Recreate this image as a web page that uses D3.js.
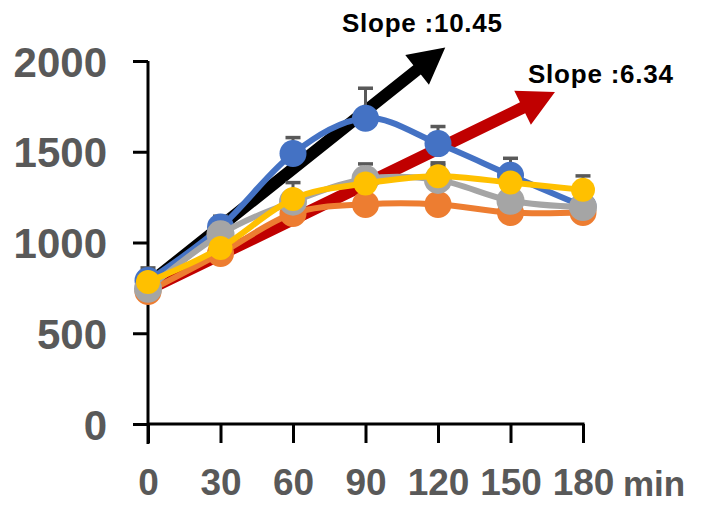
<!DOCTYPE html>
<html>
<head>
<meta charset="utf-8">
<script src="https://cdn.jsdelivr.net/npm/d3@7"></script>
<style>
  html, body { margin: 0; padding: 0; background: #fff; }
  svg { display: block; font-family: "Liberation Sans", Arial, sans-serif; font-weight: bold; }
</style>
</head>
<body>
<svg width="704" height="505"></svg>
<script>
// time points (min) and tick labels
const times = [0, 30, 60, 90, 120, 150, 180]
const yTicks = [0, 500, 1000, 1500, 2000]

// series values, drawn in this order
const blue = [790, 1085, 1490, 1685, 1545, 1370, 1200]
const blueErr = [70, 60, 88, 165, 94, 94, 40]
const orange = [730, 940, 1160, 1210, 1210, 1165, 1165]
const orangeErr = [30, 40, 40, 40, 40, 40, 30]
const gray = [745, 1045, 1225, 1350, 1345, 1230, 1195]
const grayErr = [40, 50, 105, 83, 94, 50, 40]
const yellow = [782, 970, 1240, 1325, 1365, 1330, 1290]
const yellowErr = [30, 40, 40, 40, 60, 40, 77]

// slope arrows: start and tip in data units
const arrowLabels = ["Slope :10.45", "Slope :6.34"]
const arrowStart = [[0, 770], [0, 740]]
const arrowTip = [[123, 2075], [168.4, 1829]]

const series = [
    {vals: blue, err: blueErr, color: "#4472C4", r: 13.5},
    {vals: orange, err: orangeErr, color: "#ED7D31", r: 13.5},
    {vals: gray, err: grayErr, color: "#A5A5A5", r: 14},
    {vals: yellow, err: yellowErr, color: "#FFC000", r: 12}
]
const arrowColors = ["#000000", "#C00000"]

const svg = d3.select("svg")

const x = d3.scaleLinear()
    .domain([0, 180])
    .range([148, 583])

const y = d3.scaleLinear()
    .domain([0, 2000])
    .range([424, 61])

// axes
const yAxis = svg.append("g")
    .attr("transform", `translate(${x(0)}, 0)`)
    .call(d3.axisLeft(y).tickValues(yTicks).tickFormat(d3.format("d"))
        .tickSize(15).tickPadding(26).tickSizeOuter(0))
yAxis.select(".domain").attr("stroke", "#000").attr("stroke-width", 3)
    .attr("d", `M0,${y(2000)}V${y(0) + 20}`)
yAxis.selectAll(".tick line").attr("stroke", "#000").attr("stroke-width", 3)
yAxis.selectAll(".tick text")
    .attr("fill", "#595959")
    .attr("font-size", "42px")
    .attr("font-weight", "bold")
    .attr("font-family", "Liberation Sans, Arial, sans-serif")
    .attr("dy", "0.36em")

const xAxis = svg.append("g")
    .attr("transform", `translate(0, ${y(0)})`)
    .call(d3.axisBottom(x).tickValues(times).tickSize(19).tickPadding(26).tickSizeOuter(0))
xAxis.select(".domain").attr("stroke", "#000").attr("stroke-width", 3)
    .attr("d", `M${x(0)},0H${x(180) + 1.5}`)
xAxis.selectAll(".tick line").attr("stroke", "#000").attr("stroke-width", 3)
xAxis.selectAll(".tick text")
    .attr("fill", "#595959")
    .attr("font-size", "37px")
    .attr("font-weight", "bold")
    .attr("font-family", "Liberation Sans, Arial, sans-serif")

svg.append("text")
    .attr("x", 623)
    .attr("y", 496)
    .attr("fill", "#595959")
    .attr("font-size", "35px")
    .text("min")

// arrows behind the series
arrowStart.forEach((s, i) => {
    const x0 = x(s[0]), y0 = y(s[1])
    const x1 = x(arrowTip[i][0]), y1 = y(arrowTip[i][1])
    const len = Math.hypot(x1 - x0, y1 - y0)
    const dx = (x1 - x0) / len, dy = (y1 - y0) / len
    const nx = -dy, ny = dx
    const w = 6, hw = 19, hl = 36
    const bx = x1 - dx * hl, by = y1 - dy * hl
    const pts = [
        [x0 + nx * w, y0 + ny * w],
        [bx + nx * w, by + ny * w],
        [bx + nx * hw, by + ny * hw],
        [x1, y1],
        [bx - nx * hw, by - ny * hw],
        [bx - nx * w, by - ny * w],
        [x0 - nx * w, y0 - ny * w]
    ]
    svg.append("polygon")
        .attr("points", pts.map(p => p.join(",")).join(" "))
        .attr("fill", arrowColors[i])
})

const line = d3.line()
    .x((d, i) => x(times[i]))
    .y(d => y(d))
    .curve(d3.curveCardinal.tension(0))

series.forEach(s => {
    const g = svg.append("g")
    g.append("path")
        .attr("d", line(s.vals))
        .attr("fill", "none")
        .attr("stroke", s.color)
        .attr("stroke-width", 6)
        .attr("stroke-linejoin", "round")

    // upward error bars
    s.vals.forEach((v, i) => {
        const cx = x(times[i])
        g.append("line")
            .attr("x1", cx).attr("x2", cx)
            .attr("y1", y(v)).attr("y2", y(v + s.err[i]))
            .attr("stroke", "#595959").attr("stroke-width", 3)
        g.append("line")
            .attr("x1", cx - 7.5).attr("x2", cx + 7.5)
            .attr("y1", y(v + s.err[i])).attr("y2", y(v + s.err[i]))
            .attr("stroke", "#595959").attr("stroke-width", 3.5)
    })

    g.selectAll("circle")
        .data(s.vals)
        .join("circle")
        .attr("cx", (d, i) => x(times[i]))
        .attr("cy", d => y(d))
        .attr("r", s.r)
        .attr("fill", s.color)
})

// slope labels
svg.append("text")
    .attr("x", 342)
    .attr("y", 32)
    .attr("font-size", "26px")
    .attr("textLength", 160)
    .attr("fill", "#000")
    .text(arrowLabels[0])

svg.append("text")
    .attr("x", 528)
    .attr("y", 83)
    .attr("font-size", "26px")
    .attr("textLength", 145)
    .attr("fill", "#000")
    .text(arrowLabels[1])
</script>
</body>
</html>
